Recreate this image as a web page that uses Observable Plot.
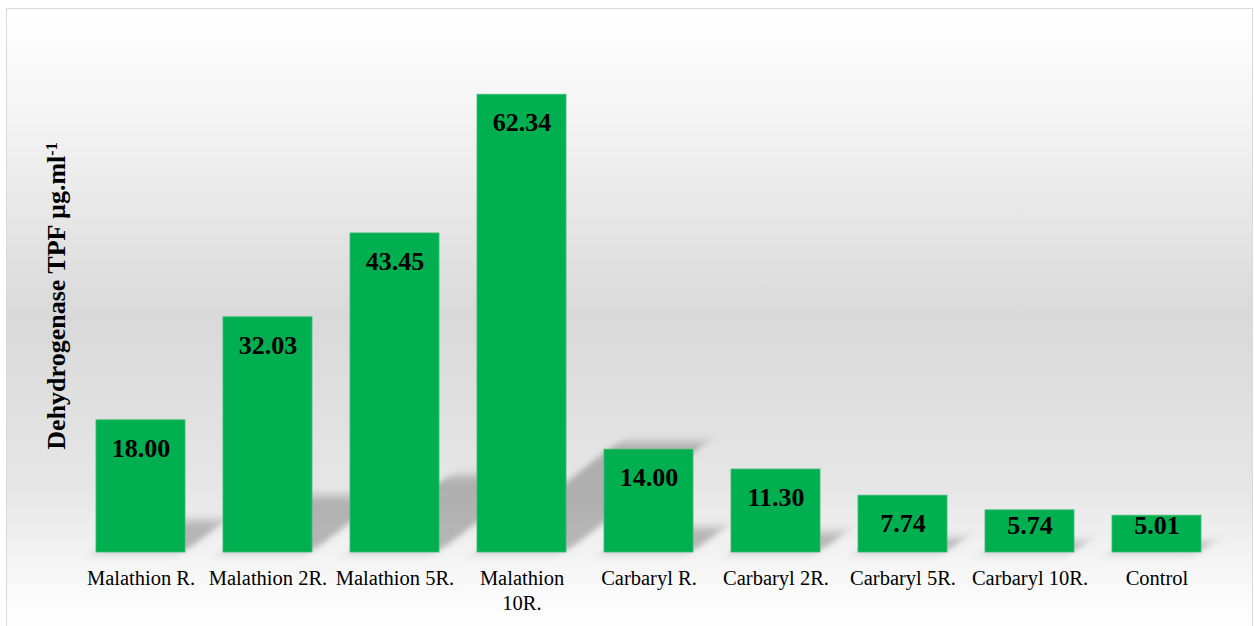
<!DOCTYPE html>
<html><head><meta charset="utf-8">
<script src="https://cdn.jsdelivr.net/npm/d3@7"></script>
<script src="https://cdn.jsdelivr.net/npm/@observablehq/plot@0.6"></script>
<style>
body{margin:0;background:#fff;}
#wrap{position:relative;width:1254px;height:626px;overflow:hidden;background:#fff;}
#frame{position:absolute;left:6px;top:8px;width:1245px;height:640px;border:1px solid #d9d9d9;
  background:linear-gradient(to bottom,#ffffff 0%,#f3f3f3 18%,#d9d9d9 48%,#e6e6e6 75%,#fbfbfb 92%,#ffffff 100%);}
#chart{position:absolute;left:0;top:0;}
#chart text{font-family:'Liberation Serif','Times New Roman',serif;}
</style></head><body>
<div id="wrap"><div id="frame"></div><div id="chart"></div></div>
<script>
const categories = ["Malathion R.", "Malathion 2R.", "Malathion 5R.", "Malathion 10R.", "Carbaryl R.", "Carbaryl 2R.", "Carbaryl 5R.", "Carbaryl 10R.", "Control"];
const values = [18.00, 32.03, 43.45, 62.34, 14.00, 11.30, 7.74, 5.74, 5.01];
const yLabel = "Dehydrogenase TPF µg.ml";
const yLabelSup = "-1";

const data = categories.map((c, i) => ({category: c, value: values[i]}));
const serif = "'Liberation Serif', 'Times New Roman', serif";

const svg = Plot.plot({
  width: 1254,
  height: 626,
  marginLeft: 74,
  marginRight: 30,
  marginTop: 38,
  marginBottom: 74,
  style: {background: "transparent", overflow: "visible", fontFamily: serif},
  x: {domain: categories, paddingInner: 0.2955, paddingOuter: 0.15},
  y: {domain: [0, 70], axis: null},
  marks: [
    Plot.barY(data, {x: "category", y: d => d.value * 0.24, fill: "#555", fillOpacity: 0.38, ariaDescription: "shadow"}),
    Plot.barY(data, {x: "category", y: "value", fill: "#00B050", stroke: "#3dbb70", strokeWidth: 0.8, ariaDescription: "bars"}),
    Plot.text(data, {x: "category", y: d => Math.max(d.value, 7.5), dy: 28, text: d => d.value.toFixed(2),
      fontSize: 26, fontWeight: "bold", fontFamily: serif, fill: "#000"}),
    Plot.axisX({tickSize: 0, tickPadding: 14, fontSize: 20.5, fontFamily: serif, fill: "#000", label: null,
      lineHeight: 1.25, tickFormat: d => d === "Malathion 10R." ? "Malathion\n10R." : d})
  ]
});

const y0 = svg.scale("y").apply(0);
const s = d3.select(svg);
const defs = s.insert("defs", ":first-child");
defs.append("filter").attr("id", "shblur").attr("filterUnits", "userSpaceOnUse")
  .attr("x", -200).attr("y", -200).attr("width", 1700).attr("height", 1100)
  .append("feGaussianBlur").attr("stdDeviation", 5);
let shadowG = svg.querySelector('g[aria-description="shadow"]');
if (!shadowG) shadowG = svg.querySelectorAll('g[aria-label="bar"]')[0];
if (shadowG) {
  const t = shadowG.getAttribute("transform") || "";
  shadowG.setAttribute("transform", `${t} translate(0,${y0}) skewX(-52) translate(0,${-y0})`);
  shadowG.setAttribute("filter", "url(#shblur)");
}
s.selectAll("text").attr("font-family", serif);

const yl = s.append("text")
  .attr("transform", `translate(65,296) rotate(-90)`)
  .attr("text-anchor", "middle")
  .attr("font-family", serif)
  .attr("font-weight", "bold")
  .attr("font-size", 26)
  .attr("fill", "#000");
yl.append("tspan").text(yLabel);
yl.append("tspan").attr("dy", "-0.5em").attr("font-size", 16).text(yLabelSup);

document.getElementById("chart").appendChild(svg);
</script>
</body></html>
